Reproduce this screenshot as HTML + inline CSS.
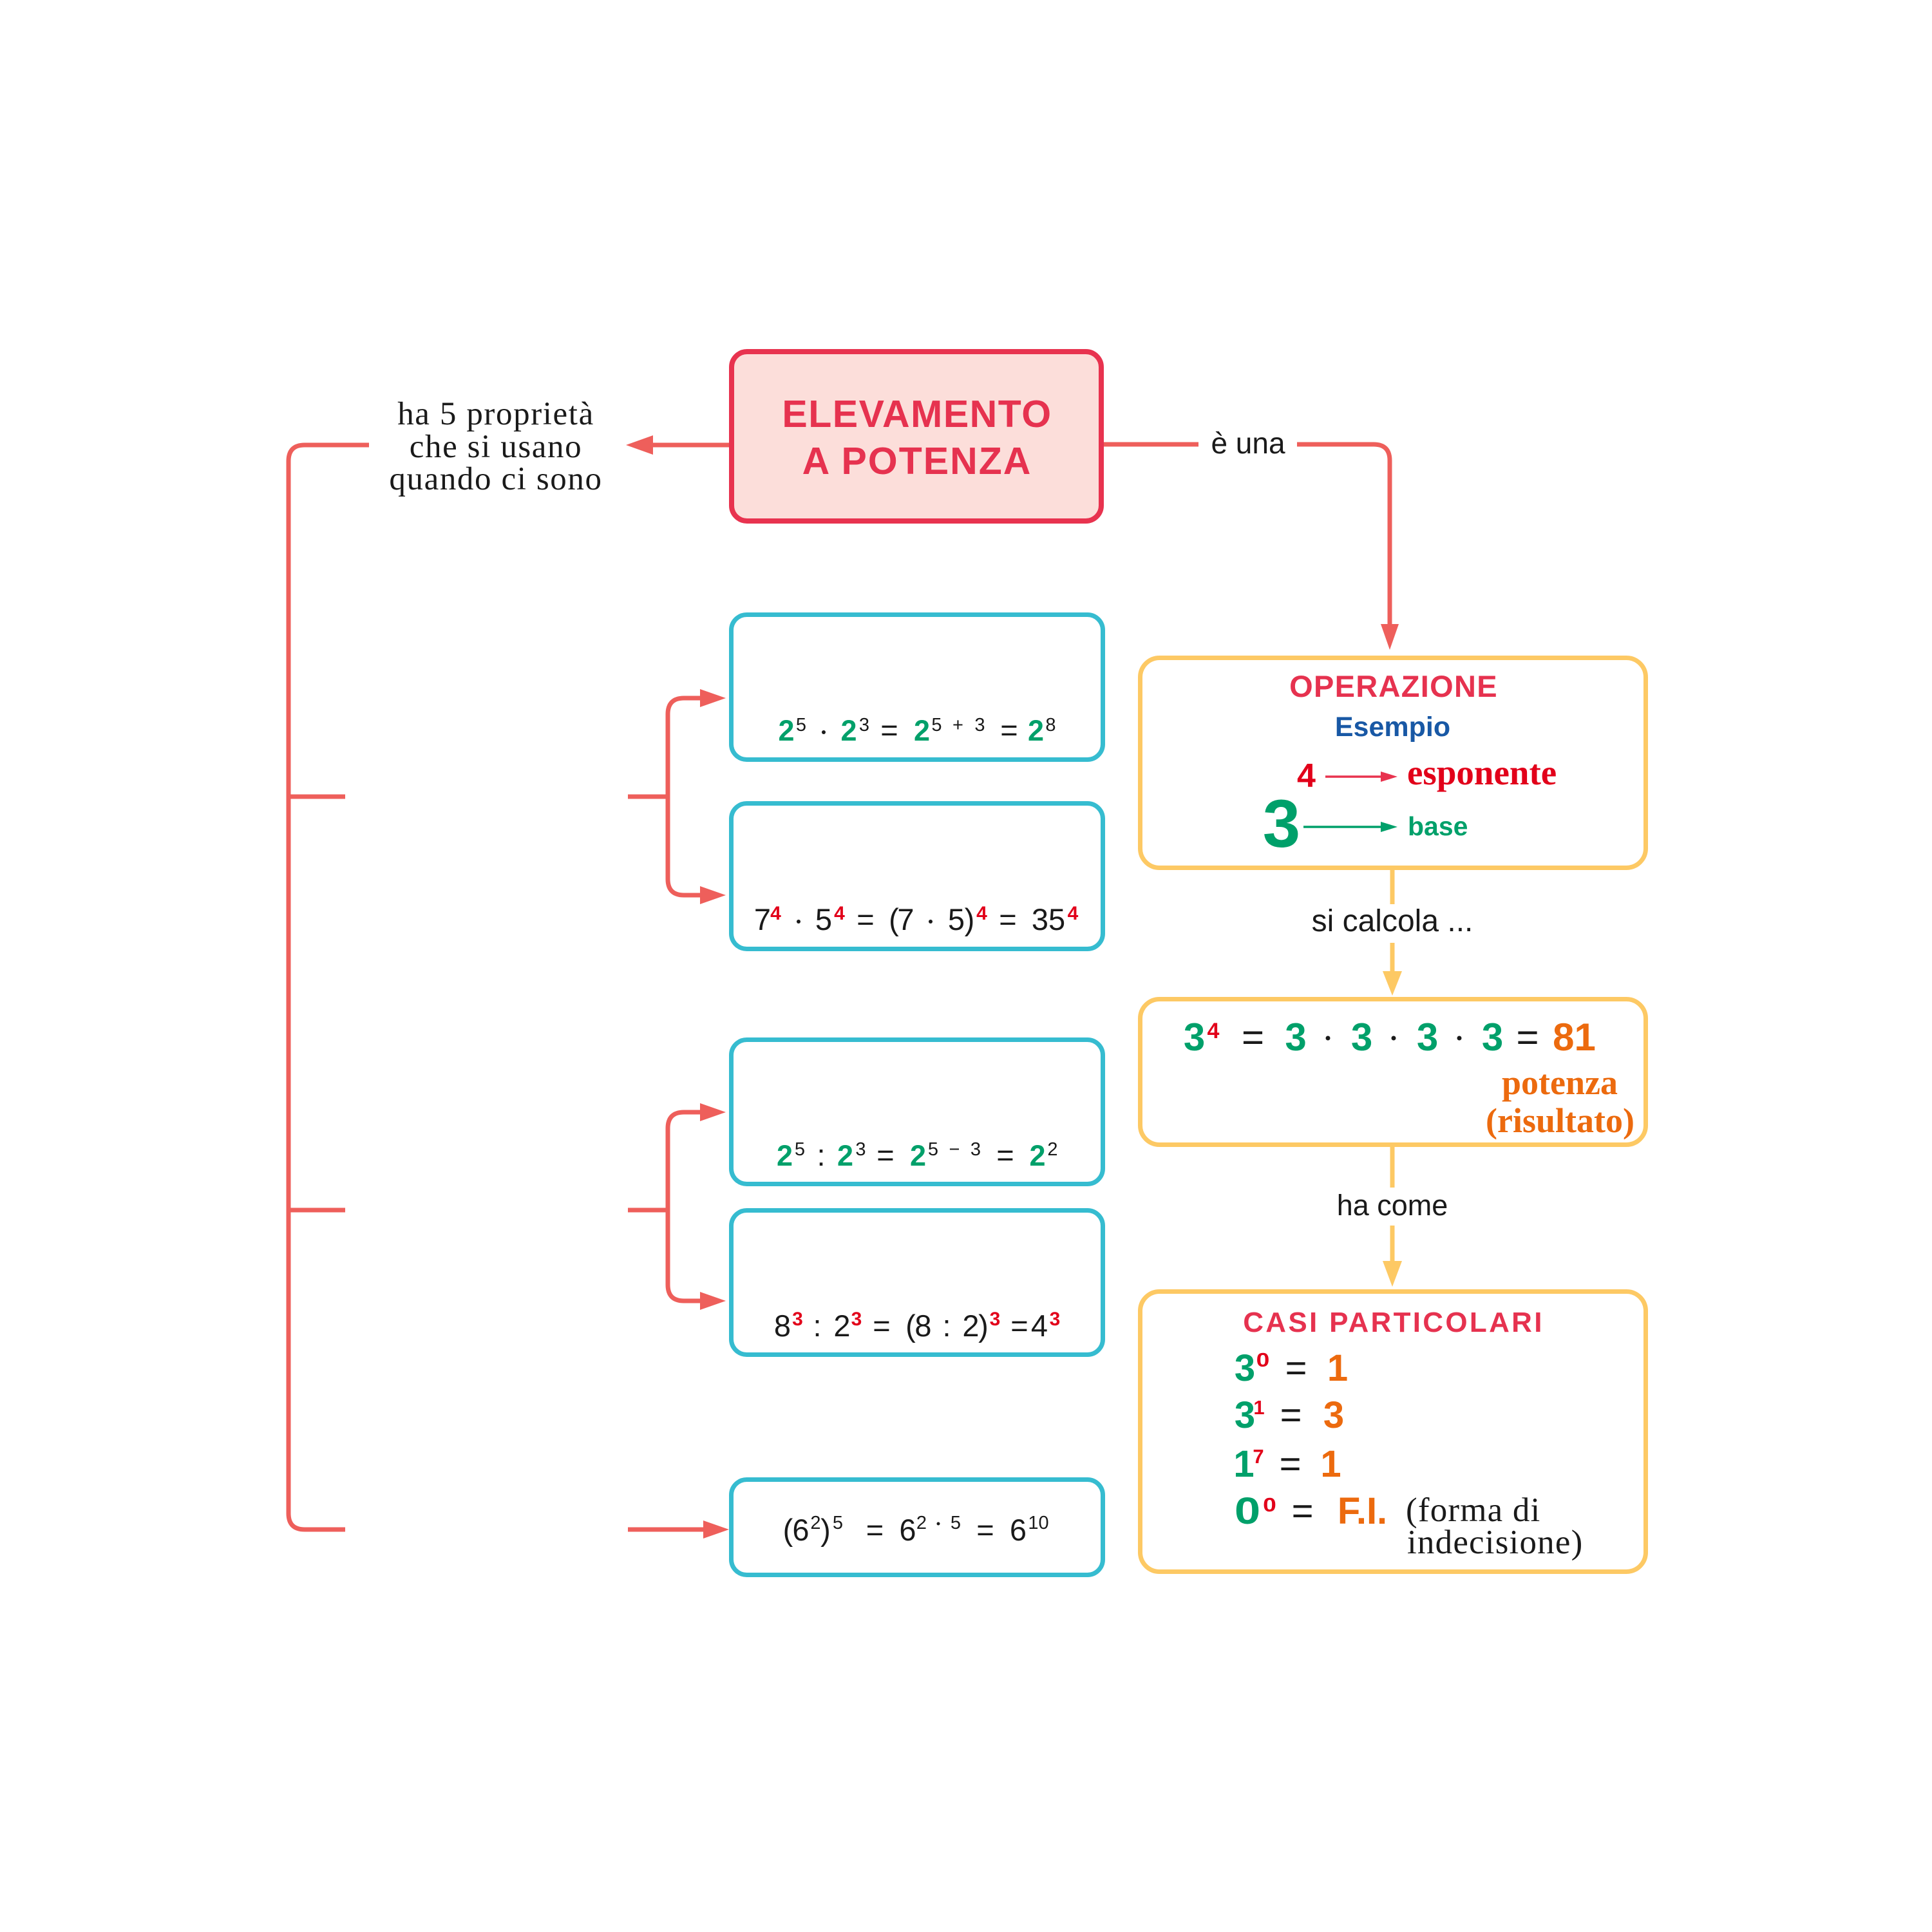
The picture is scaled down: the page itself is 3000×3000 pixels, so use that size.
<!DOCTYPE html>
<html>
<head>
<meta charset="utf-8">
<style>
html,body{margin:0;padding:0;background:#fff;}
svg{display:block;}
.s{font-family:"Liberation Sans","DejaVu Sans",sans-serif;}
.r{font-family:"Liberation Serif","DejaVu Serif",serif;}
</style>
</head>
<body>
<svg width="3000" height="3000" viewBox="0 0 3000 3000" xmlns="http://www.w3.org/2000/svg">
<rect width="3000" height="3000" fill="#fff"/>

<!-- red connectors -->
<g fill="none" stroke="#EE5F5B" stroke-width="7">
  <path d="M573 691 H473 Q448 691 448 716 V2350 Q448 2375 473 2375 H536"/>
  <path d="M448 1237 H536"/>
  <path d="M448 1879 H536"/>
  <path d="M1132 691 H1010"/>
  <path d="M975 1237 H1037"/>
  <path d="M1090 1084 H1062 Q1037 1084 1037 1109 V1365 Q1037 1390 1062 1390 H1090"/>
  <path d="M975 1879 H1037"/>
  <path d="M1090 1727 H1062 Q1037 1727 1037 1752 V1995 Q1037 2020 1062 2020 H1090"/>
  <path d="M975 2375 H1095"/>
  <path d="M1714 690 H1861"/>
  <path d="M2014 690 H2133 Q2158 690 2158 715 V975"/>
</g>
<g fill="#EE5F5B">
  <polygon points="972,691 1014,676 1014,706"/>
  <polygon points="1127,1084 1087,1070 1087,1098"/>
  <polygon points="1127,1390 1087,1376 1087,1404"/>
  <polygon points="1127,1727 1087,1713 1087,1741"/>
  <polygon points="1127,2020 1087,2006 1087,2034"/>
  <polygon points="1132,2375 1092,2361 1092,2389"/>
  <polygon points="2158,1009 2144,969 2172,969"/>
</g>

<!-- yellow connectors -->
<g fill="none" stroke="#FDC964" stroke-width="7">
  <path d="M2162 1351 V1404"/>
  <path d="M2162 1464 V1515"/>
  <path d="M2162 1781 V1844"/>
  <path d="M2162 1903 V1962"/>
</g>
<g fill="#FDC964">
  <polygon points="2162,1546 2147,1508 2177,1508"/>
  <polygon points="2162,1998 2147,1958 2177,1958"/>
</g>

<!-- main box -->
<rect x="1136" y="546" width="574" height="263" rx="24" fill="#FCDEDA" stroke="#E8334F" stroke-width="8"/>
<g class="s" font-weight="bold" fill="#E6324F" font-size="59" text-anchor="middle">
  <text x="1424" y="663" letter-spacing="1.5">ELEVAMENTO</text>
  <text x="1424" y="736" letter-spacing="2">A POTENZA</text>
</g>

<!-- blue boxes -->
<g fill="#fff" stroke="#36BCD0" stroke-width="7">
  <rect x="1135.5" y="954.5" width="577" height="225" rx="24"/>
  <rect x="1135.5" y="1247.5" width="577" height="226" rx="24"/>
  <rect x="1135.5" y="1614.5" width="577" height="224" rx="24"/>
  <rect x="1135.5" y="1879.5" width="577" height="224" rx="24"/>
  <rect x="1135.5" y="2297.5" width="577" height="148" rx="24"/>
</g>

<!-- yellow boxes -->
<g fill="#fff" stroke="#FDC964" stroke-width="7">
  <rect x="1770.5" y="1021.5" width="785" height="326" rx="30"/>
  <rect x="1770.5" y="1551.5" width="785" height="226" rx="30"/>
  <rect x="1770.5" y="2005.5" width="785" height="435" rx="30"/>
</g>

<!-- left label -->
<g class="r" font-size="51" fill="#1a1a1a" text-anchor="middle" letter-spacing="1.6">
  <text x="770" y="659">ha 5 proprietà</text>
  <text x="770" y="710">che si usano</text>
  <text x="770" y="760">quando ci sono</text>
</g>

<!-- connector labels -->
<g class="s" fill="#1a1a1a" text-anchor="middle">
  <text x="1938" y="704" font-size="46">è una</text>
  <text x="2162" y="1446" font-size="48">si calcola ...</text>
  <text x="2162" y="1887" font-size="45">ha come</text>
</g>

<!-- Box1 formula -->
<g class="s" text-anchor="middle">
  <g font-size="45" font-weight="bold" fill="#00A06A">
    <text x="1221" y="1150">2</text>
    <text x="1318" y="1150">2</text>
    <text x="1431.5" y="1150">2</text>
    <text x="1608.5" y="1150">2</text>
  </g>
  <g font-size="29" fill="#1a1a1a">
    <text x="1244" y="1135">5</text>
    <text x="1342" y="1135">3</text>
    <text x="1454.5" y="1135">5</text>
    <text x="1487.5" y="1135">+</text>
    <text x="1521.5" y="1135">3</text>
    <text x="1631.5" y="1135">8</text>
  </g>
  <g font-size="47" fill="#1a1a1a">
    <text x="1381" y="1150">=</text>
    <text x="1567" y="1150">=</text>
  </g>
  <circle cx="1279" cy="1137" r="3" fill="#1a1a1a"/>
</g>

<!-- Box2 formula -->
<g class="s" text-anchor="middle">
  <g font-size="47" fill="#1a1a1a">
    <text x="1184" y="1444">7</text>
    <text x="1279" y="1444">5</text>
    <text x="1344" y="1444">=</text>
    <text x="1388" y="1444">(</text>
    <text x="1406.5" y="1444">7</text>
    <text x="1485" y="1444">5</text>
    <text x="1505.5" y="1444">)</text>
    <text x="1565" y="1444">=</text>
    <text x="1628" y="1444">35</text>
  </g>
  <g font-size="30" font-weight="bold" fill="#E2001A">
    <text x="1204.5" y="1428">4</text>
    <text x="1303.5" y="1428">4</text>
    <text x="1524.5" y="1428">4</text>
    <text x="1666" y="1428">4</text>
  </g>
  <circle cx="1240" cy="1431" r="3" fill="#1a1a1a"/>
  <circle cx="1445" cy="1431" r="3" fill="#1a1a1a"/>
</g>

<!-- Box3 formula -->
<g class="s" text-anchor="middle">
  <g font-size="45" font-weight="bold" fill="#00A06A">
    <text x="1218.5" y="1810">2</text>
    <text x="1312.5" y="1810">2</text>
    <text x="1425.5" y="1810">2</text>
    <text x="1611" y="1810">2</text>
  </g>
  <g font-size="29" fill="#1a1a1a">
    <text x="1242" y="1794">5</text>
    <text x="1336.5" y="1794">3</text>
    <text x="1449" y="1794">5</text>
    <text x="1482" y="1794">−</text>
    <text x="1515" y="1794">3</text>
    <text x="1634.5" y="1794">2</text>
  </g>
  <g font-size="47" fill="#1a1a1a">
    <text x="1275" y="1810">:</text>
    <text x="1375" y="1810">=</text>
    <text x="1561" y="1810">=</text>
  </g>
</g>

<!-- Box4 formula -->
<g class="s" text-anchor="middle">
  <g font-size="47" fill="#1a1a1a">
    <text x="1215" y="2075">8</text>
    <text x="1269" y="2075">:</text>
    <text x="1307.5" y="2075">2</text>
    <text x="1369" y="2075">=</text>
    <text x="1414" y="2075">(</text>
    <text x="1433.5" y="2075">8</text>
    <text x="1470" y="2075">:</text>
    <text x="1507.5" y="2075">2</text>
    <text x="1527" y="2075">)</text>
    <text x="1583" y="2075">=</text>
    <text x="1614" y="2075">4</text>
  </g>
  <g font-size="30" font-weight="bold" fill="#E2001A">
    <text x="1238.5" y="2058">3</text>
    <text x="1330" y="2058">3</text>
    <text x="1545" y="2058">3</text>
    <text x="1638" y="2058">3</text>
  </g>
</g>

<!-- Box5 formula -->
<g class="s" text-anchor="middle" fill="#1a1a1a">
  <g font-size="47">
    <text x="1223.5" y="2392">(</text>
    <text x="1243.5" y="2392">6</text>
    <text x="1282" y="2392">)</text>
    <text x="1358.5" y="2392">=</text>
    <text x="1409.5" y="2392">6</text>
    <text x="1530" y="2392">=</text>
    <text x="1581" y="2392">6</text>
  </g>
  <g font-size="29">
    <text x="1266.5" y="2374">2</text>
    <text x="1301" y="2374">5</text>
    <text x="1431" y="2374">2</text>
    <text x="1484" y="2374">5</text>
    <text x="1612.5" y="2374">10</text>
  </g>
  <circle cx="1457" cy="2366" r="2.5"/>
</g>

<!-- Operazione box content -->
<g text-anchor="middle">
  <text class="s" x="2164" y="1082" font-size="47" font-weight="bold" fill="#E6324F" letter-spacing="1.3">OPERAZIONE</text>
  <text class="s" x="2162.5" y="1143" font-size="43" font-weight="bold" fill="#1858A5">Esempio</text>
  <text class="s" x="2028.5" y="1222" font-size="52" font-weight="bold" fill="#E2001A">4</text>
  <text class="s" x="1990" y="1315" font-size="105" font-weight="bold" fill="#00A06A">3</text>
</g>
<line x1="2058" y1="1206" x2="2146" y2="1206" stroke="#E8334F" stroke-width="3.5"/>
<polygon points="2170,1206 2144,1198 2144,1214" fill="#E8334F"/>
<line x1="2024" y1="1284" x2="2146" y2="1284" stroke="#00A06A" stroke-width="3.5"/>
<polygon points="2170,1284 2144,1276 2144,1292" fill="#00A06A"/>
<text class="r" x="2185" y="1218" font-size="55" font-weight="bold" fill="#E2001A">esponente</text>
<text class="s" x="2186" y="1297" font-size="41" font-weight="bold" fill="#00A06A">base</text>

<!-- Result box -->
<g class="s" text-anchor="middle">
  <g font-size="60" font-weight="bold" fill="#00A06A">
    <text x="1854.5" y="1631">3</text>
    <text x="2012" y="1631">3</text>
    <text x="2114.5" y="1631">3</text>
    <text x="2216.5" y="1631">3</text>
    <text x="2317.5" y="1631">3</text>
  </g>
  <text x="1884" y="1612" font-size="34" font-weight="bold" fill="#E2001A">4</text>
  <g font-size="60" fill="#1a1a1a">
    <text x="1945.5" y="1631">=</text>
    <text x="2372" y="1631">=</text>
  </g>
  <text x="2444.5" y="1631" font-size="60" font-weight="bold" fill="#EC6A0E">81</text>
  <g fill="#1a1a1a">
    <circle cx="2062" cy="1612" r="3.5"/>
    <circle cx="2164" cy="1612" r="3.5"/>
    <circle cx="2266" cy="1612" r="3.5"/>
  </g>
</g>
<g class="r" font-weight="bold" font-size="54" fill="#EC6A0E" text-anchor="end">
  <text x="2512" y="1699">potenza</text>
  <text x="2538" y="1758">(risultato)</text>
</g>

<!-- Casi particolari -->
<text class="s" x="2164" y="2068" font-size="44" font-weight="bold" fill="#E6324F" text-anchor="middle" letter-spacing="3.3">CASI PARTICOLARI</text>
<g class="s" text-anchor="middle">
  <g font-size="58" font-weight="bold" fill="#00A06A">
    <text x="1933" y="2144">3</text>
    <text x="1933" y="2217">3</text>
    <text x="1931.5" y="2293">1</text>
    <text x="0" y="2366" transform="translate(1937 0) scale(1.25 1)">0</text>
  </g>
  <g font-size="31" font-weight="bold" fill="#E2001A">
    <text x="0" y="2122" transform="translate(1961 0) scale(1.2 1)">0</text>
    <text x="1955" y="2196">1</text>
    <text x="1954" y="2272">7</text>
    <text x="0" y="2347" transform="translate(1971.5 0) scale(1.2 1)">0</text>
  </g>
  <g font-size="58" fill="#1a1a1a">
    <text x="2012.5" y="2144">=</text>
    <text x="2004.5" y="2217">=</text>
    <text x="2003.5" y="2293">=</text>
    <text x="2022.5" y="2366">=</text>
  </g>
  <g font-size="58" font-weight="bold" fill="#EC6A0E">
    <text x="2077" y="2144">1</text>
    <text x="2071" y="2217">3</text>
    <text x="2066.5" y="2293">1</text>
    <text x="2115.5" y="2366">F.I.</text>
  </g>
</g>
<g class="r" font-size="53" fill="#1a1a1a" letter-spacing="1.2">
  <text x="2183" y="2362">(forma di</text>
  <text x="2185" y="2412">indecisione)</text>
</g>
</svg>
</body>
</html>
